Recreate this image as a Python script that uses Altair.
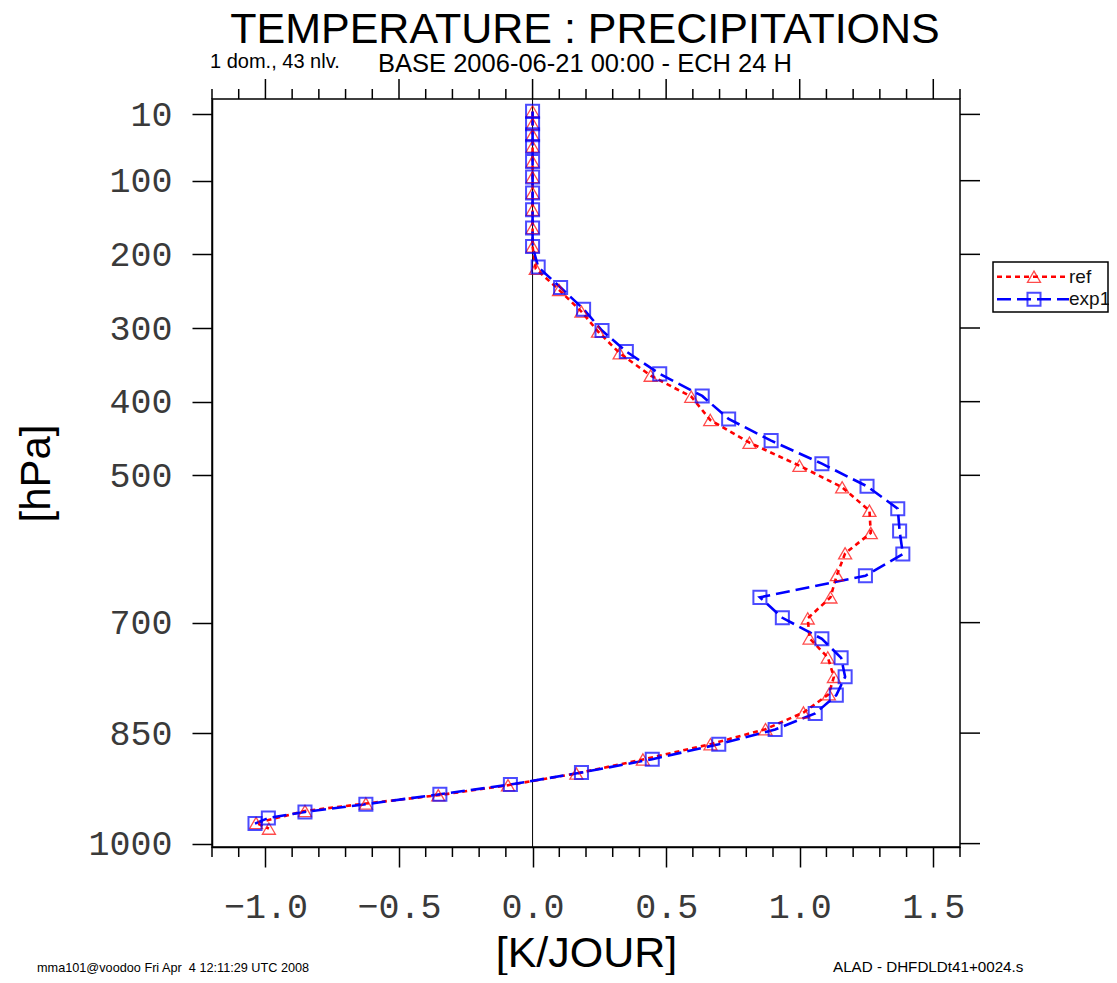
import altair as alt
import pandas as pd

# ---------------- data ----------------
series_names = ["ref", "exp1"]
series_colors = ["#ff0000", "#0000ff"]
series_dash = [[5, 4], [14, 6]]
series_shapes = ["triangle-up", "square"]

p_exp1 = [5.9, 22.6, 37.6, 53.5, 73.9, 95.1, 116.8, 139.5, 164.3, 189.3,
          217.3, 245.1, 274.4, 303.5, 332.0, 362.3, 392.2, 423.5, 452.9, 484.2,
          514.9, 545.3, 575.6, 606.9, 636.4, 665.7, 693.4, 722.0, 747.8, 773.6,
          798.4, 823.3, 845.1, 865.0, 885.4, 903.5, 919.8, 933.0, 946.5, 957.0,
          965.2, 972.8]
x_exp1 = [0.0, 0.0, 0.0, 0.0, 0.0, 0.0, 0.0, 0.0, 0.0, 0.0,
          0.021, 0.105, 0.191, 0.260, 0.351, 0.476, 0.635, 0.734, 0.893, 1.083,
          1.252, 1.367, 1.374, 1.386, 1.246, 0.851, 0.935, 1.083, 1.155, 1.170,
          1.137, 1.058, 0.908, 0.697, 0.448, 0.183, -0.083, -0.347, -0.624, -0.852,
          -0.989, -1.039]

p_ref = [5.9, 22.6, 37.6, 53.5, 73.9, 95.1, 116.8, 139.5, 164.3, 189.3,
         219.6, 248.2, 277.7, 304.8, 334.2, 364.6, 393.2, 424.8, 455.7, 486.9,
         516.3, 548.0, 578.3, 605.9, 635.4, 665.7, 694.2, 721.4, 747.2, 773.6,
         797.1, 822.0, 844.6, 865.0, 885.8, 904.8, 920.7, 934.3, 945.6, 955.7,
         972.0, 979.6]
x_ref = [0.0, 0.0, 0.0, 0.0, 0.0, 0.0, 0.0, 0.0, 0.0, 0.0,
         0.012, 0.099, 0.183, 0.245, 0.326, 0.442, 0.594, 0.665, 0.812, 0.999,
         1.159, 1.261, 1.266, 1.170, 1.139, 1.115, 1.030, 1.037, 1.105, 1.128,
         1.109, 1.014, 0.872, 0.666, 0.413, 0.164, -0.092, -0.353, -0.624, -0.852,
         -1.035, -0.987]

x_major_ticks = [-1.0, -0.5, 0.0, 0.5, 1.0, 1.5]
x_minor_ticks = [-1.2, -1.1, -0.9, -0.8, -0.7, -0.6, -0.4, -0.3, -0.2, -0.1,
                 0.1, 0.2, 0.3, 0.4, 0.6, 0.7, 0.8, 0.9, 1.1, 1.2, 1.3, 1.4, 1.6]
y_ticks = [10, 100, 200, 300, 400, 500, 700, 850, 1000]
zero_line = [0.0]

title_text = "TEMPERATURE : PRECIPITATIONS"
subtitle_text = "BASE 2006-06-21 00:00 - ECH 24 H"
left_info = "1 dom., 43 nlv."
footer_left = "mma101@voodoo Fri Apr\u00a0 4 12:11:29 UTC 2008"
footer_right = "ALAD - DHFDLDt41+0024.s"

# ---------------- tables ----------------
rows = []
for name, ps, xs in (("ref", p_ref, x_ref), ("exp1", p_exp1, x_exp1)):
    for i, (p, x) in enumerate(zip(ps, xs)):
        rows.append({"series": name, "lev": i, "p": p, "x": x})
df = pd.DataFrame(rows)

W, H = 748, 748
SANS = "Liberation Sans"
MONO = "Liberation Mono"
LABEL_GREY = "#3a3a3a"

xscale = alt.Scale(domain=[-1.2, 1.6], nice=False, zero=False)
yscale = alt.Scale(domain=[-10.9, 1004.6], reverse=True, nice=False, zero=False)

color_enc = alt.Color("series:N", scale=alt.Scale(domain=series_names, range=series_colors), legend=None)
dash_enc = alt.StrokeDash("series:N", scale=alt.Scale(domain=series_names, range=series_dash), legend=None)
shape_enc = alt.Shape("series:N", scale=alt.Scale(domain=series_names, range=series_shapes), legend=None)
sw_enc = alt.StrokeWidth("series:N", scale=alt.Scale(domain=series_names, range=[1.3, 2.0]), legend=None)

x_axis = alt.Axis(values=x_major_ticks, format=".1f", tickSize=20, tickWidth=1.5,
                  tickColor="black", domainColor="black", domainWidth=1.5,
                  labelFont=MONO, labelFontSize=35, labelColor=LABEL_GREY,
                  labelPadding=22, labelFlush=False, labelOverlap=False, grid=False,
                  title="[K/JOUR]", titleFont=SANS, titleFontSize=43,
                  titleFontWeight="normal", titleColor="black",
                  titleX=W / 2, titleY=119, titleBaseline="alphabetic")
y_axis = alt.Axis(values=y_ticks, format="d", tickSize=20, tickWidth=1.5, tickColor="black",
                  domainColor="black", domainWidth=1.5,
                  labelFont=MONO, labelFontSize=35, labelColor=LABEL_GREY,
                  labelPadding=20, labelOverlap=False, labelFlush=False, grid=False,
                  title="[hPa]", titleFont=SANS, titleFontSize=42,
                  titleFontWeight="normal", titleColor="black",
                  titleX=-163, titleY=H / 2, titleBaseline="alphabetic", titleAngle=270)

X = alt.X("x:Q", scale=xscale, axis=x_axis)
Y = alt.Y("p:Q", scale=yscale, axis=y_axis)

zero_rule = alt.Chart(pd.DataFrame({"x": zero_line})).mark_rule(
    color="black", strokeWidth=1).encode(x=X)

lines = alt.Chart(df).mark_line(strokeWidth=2.6).encode(
    x=X, y=Y, color=color_enc, strokeDash=dash_enc, order="lev:Q")

points = alt.Chart(df).mark_point(filled=False, size=170).encode(
    x=X, y=Y, color=color_enc, shape=shape_enc, strokeWidth=sw_enc)

# frame ticks (top, bottom minor, right)
def xticks(values, y0, y1):
    return alt.Chart(pd.DataFrame({"x": values})).mark_rule(
        color="black", strokeWidth=1.5).encode(
        x=X, y=alt.value(y0), y2=alt.value(y1))

top_minor = xticks(x_minor_ticks, 0, -10)
top_major = xticks(x_major_ticks, 0, -20)
bottom_minor = xticks(x_minor_ticks, H, H + 10)
right_ticks = alt.Chart(pd.DataFrame({"p": y_ticks})).mark_rule(
    color="black", strokeWidth=1.5).encode(
    y=Y, x=alt.value(W), x2=alt.value(W + 20))

# legend (drawn by hand, colours/dashes/shapes via the same scales)
legend_box = alt.Chart(pd.DataFrame({"k": [0]})).mark_rect(
    fill="white", stroke="black", strokeWidth=1.5).encode(
    x=alt.value(781), x2=alt.value(896), y=alt.value(163), y2=alt.value(213))

legend_layers = []
for name, ypix in (("ref", 177.7), ("exp1", 200.3)):
    ldf = pd.DataFrame({"series": [name]})
    legend_layers.append(alt.Chart(ldf).mark_rule(strokeWidth=2.6).encode(
        x=alt.value(785), x2=alt.value(857), y=alt.value(ypix),
        color=color_enc, strokeDash=dash_enc))
    legend_layers.append(alt.Chart(ldf).mark_point(filled=False, size=170).encode(
        x=alt.value(822), y=alt.value(ypix), color=color_enc, shape=shape_enc,
        strokeWidth=sw_enc))
    legend_layers.append(alt.Chart(ldf).mark_text(
        align="left", baseline="middle", font=SANS, fontSize=19, color="#111").encode(
        x=alt.value(857), y=alt.value(ypix), text="series:N"))

def label(text, x, y, size, font=SANS, align="left"):
    return alt.Chart(pd.DataFrame({"txt": [text]})).mark_text(
        align=align, baseline="alphabetic", font=font, fontSize=size, color="black").encode(
        x=alt.value(x), y=alt.value(y), text="txt:N")

texts = [
    label(title_text, W / 2 - 1, -56, 43, SANS, "center"),
    label(subtitle_text, W / 2 - 1, -27, 25.5, SANS, "center"),
    label(left_info, -2, -31, 20, SANS),
    label(footer_left, -175, 873, 12.7, SANS),
    label(footer_right, 621, 873, 15.2, SANS),
]

chart = alt.layer(
    zero_rule, lines, points, top_minor, top_major, bottom_minor, right_ticks,
    legend_box, *legend_layers, *texts
).properties(
    width=W, height=H,
    padding={"left": 204, "top": 91, "right": 149, "bottom": 128},
    autosize=alt.AutoSizeParams(type="none"),
).configure_view(stroke="black", strokeWidth=1.5)

chart.save("out.html", embed_options={"renderer": "svg", "actions": False})
